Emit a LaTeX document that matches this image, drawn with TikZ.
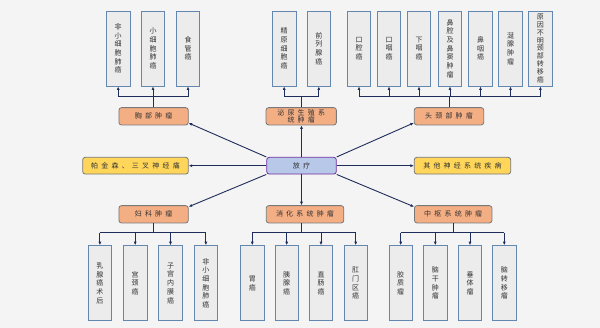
\documentclass[tikz,border=0pt]{standalone}
\usepackage{fontspec}
\setmainfont{Noto Sans CJK SC}
\usetikzlibrary{arrows.meta}
\definecolor{bg}{RGB}{244,244,244}
\definecolor{leaffill}{RGB}{236,236,236}
\definecolor{leafdraw}{RGB}{100,135,175}
\definecolor{orgfill}{RGB}{244,174,132}
\definecolor{boxdraw}{RGB}{120,120,120}
\definecolor{yelfill}{RGB}{255,214,90}
\definecolor{fangfill}{RGB}{184,200,232}
\definecolor{fangdraw}{RGB}{112,48,160}
\definecolor{navy}{RGB}{31,45,90}
\definecolor{txt}{RGB}{50,50,50}
\newcommand\gsp{\hspace{3.2pt}}
\tikzset{
  leaf/.style={draw=leafdraw, fill=leaffill, line width=0.9pt, minimum width=23.5pt,
    minimum height=75pt, inner sep=0pt, align=center,
    font=\fontsize{7}{8.7}\selectfont, text=txt},
  cat/.style={draw=boxdraw, fill=orgfill, rounded corners=2.5pt, line width=0.8pt,
    minimum height=17.3pt, inner sep=0pt, align=center,
    font=\fontsize{7}{7.6}\selectfont, text=txt},
  yel/.style={cat, fill=yelfill, minimum height=16.7pt},
  fangbox/.style={cat, fill=fangfill, draw=fangdraw, minimum height=16.7pt},
  conn/.style={draw=navy, line width=0.9pt},
  arr/.style={conn, -{Latex[length=3.5pt,width=3pt]}}
}
\begin{document}
\begin{tikzpicture}[x=1pt,y=-1pt]
\fill[bg] (0,0) rectangle (600,328);
\useasboundingbox (0,0) rectangle (600,328);
% top leaves
\node[leaf] (t1) at (118.2,48.5) {非\\小\\细\\胞\\肺\\癌};
\node[leaf] (t2) at (153,48.5) {小\\细\\胞\\肺\\癌};
\node[leaf] (t3) at (188,48.5) {食\\管\\癌};
\node[leaf] (t4) at (284.2,48.5) {精\\原\\细\\胞\\癌};
\node[leaf] (t5) at (318.8,48.5) {前\\列\\腺\\癌};
\node[leaf] (t6) at (359,48.5) {口\\腔\\癌};
\node[leaf] (t7) at (389,48.5) {口\\咽\\癌};
\node[leaf] (t8) at (419,48.5) {下\\咽\\癌};
\node[leaf] (t9) at (450,48.5) {鼻\\腔\\及\\鼻\\窦\\肿\\瘤};
\node[leaf] (t10) at (480.5,48.5) {鼻\\咽\\癌};
\node[leaf] (t11) at (510.5,48.5) {涎\\腺\\肿\\瘤};
\node[leaf, font=\fontsize{7}{7.8}\selectfont] (t12) at (540.4,48.5) {原\\因\\不\\明\\颈\\部\\转\\移\\癌};
% bottom leaves
\node[leaf] (b1) at (99.9,283.2) {乳\\腺\\癌\\术\\后};
\node[leaf] (b2) at (135.2,283.2) {宫\\颈\\癌};
\node[leaf] (b3) at (170.5,283.2) {子\\宫\\内\\膜\\癌};
\node[leaf] (b4) at (205.9,283.2) {非\\小\\细\\胞\\肺\\癌};
\node[leaf] (b5) at (252.3,283.2) {胃\\癌};
\node[leaf] (b6) at (286.7,283.2) {胰\\腺\\癌};
\node[leaf] (b7) at (321,283.2) {直\\肠\\癌};
\node[leaf] (b8) at (355.7,283.2) {肛\\门\\区\\癌};
\node[leaf] (b9) at (400.7,283.2) {胶\\质\\瘤};
\node[leaf] (b10) at (435.3,283.2) {脑\\干\\肿\\瘤};
\node[leaf] (b11) at (470,283.2) {垂\\体\\瘤};
\node[leaf] (b12) at (504.3,283.2) {脑\\转\\移\\瘤};
% categories
\node[cat, minimum width=69.3pt] (chest) at (153.6,116.3) {胸\gsp 部\gsp 肿\gsp 瘤};
\node[cat, minimum width=70.3pt] (uro) at (301.2,116.3) {泌\gsp 尿\gsp 生\gsp 殖\gsp 系\\统\gsp 肿\gsp 瘤};
\node[cat, minimum width=69.4pt] (head) at (449,116.3) {头\gsp 颈\gsp 部\gsp 肿\gsp 瘤};
\node[yel, minimum width=105.6pt] (park) at (135.5,165.7) {帕\gsp 金\gsp 森\gsp 、\gsp 三\gsp 叉\gsp 神\gsp 经\gsp 痛};
\node[fangbox, minimum width=69.6pt] (fang) at (301.5,165.7) {放\gsp 疗};
\node[yel, minimum width=96.4pt] (other) at (462.5,165.7) {其\gsp 他\gsp 神\gsp 经\gsp 系\gsp 统\gsp 疾\gsp 病};
\node[cat, minimum width=69.3pt] (gyn) at (153.6,214.3) {妇\gsp 科\gsp 肿\gsp 瘤};
\node[cat, minimum width=77.5pt] (dig) at (305,214.3) {消\gsp 化\gsp 系\gsp 统\gsp 肿\gsp 瘤};
\node[cat, minimum width=77.5pt] (cns) at (453.2,214.3) {中\gsp 枢\gsp 系\gsp 统\gsp 肿\gsp 瘤};
% top brackets
\draw[conn] (chest.north) -- ++(0,-10.4) coordinate (cb);
\draw[conn] (t1.south |- cb) -- (t3.south |- cb);
\foreach \n in {t1,t2,t3} \draw[arr] (\n.south |- cb) -- (\n.south);
\draw[conn] (uro.north) -- ++(0,-10.4) coordinate (ub);
\draw[conn] (t4.south |- ub) -- (t5.south |- ub);
\foreach \n in {t4,t5} \draw[arr] (\n.south |- ub) -- (\n.south);
\draw[conn] (head.north) -- ++(0,-10.4) coordinate (hb);
\draw[conn] (t6.south |- hb) -- (t12.south |- hb);
\foreach \n in {t6,t7,t8,t9,t10,t11,t12} \draw[arr] (\n.south |- hb) -- (\n.south);
% bottom brackets
\draw[conn] (gyn.south) -- ++(0,9.6) coordinate (gb);
\draw[conn] (b1.north |- gb) -- (b4.north |- gb);
\foreach \n in {b1,b2,b3,b4} \draw[arr] (\n.north |- gb) -- (\n.north);
\draw[conn] (dig.south -| fang) -- ++(0,9.6) coordinate (db);
\draw[conn] (b5.north |- db) -- (b8.north |- db);
\foreach \n in {b5,b6,b7,b8} \draw[arr] (\n.north |- db) -- (\n.north);
\draw[conn] (cns.south) -- ++(0,9.6) coordinate (nb);
\draw[conn] (b9.north |- nb) -- (b12.north |- nb);
\foreach \n in {b9,b10,b11,b12} \draw[arr] (\n.north |- nb) -- (\n.north);
% spokes
\draw[arr] (fang.north west) -- ([yshift=2.3pt]chest.south east);
\draw[arr] (fang.north) -- (fang.north |- uro.south);
\draw[arr] (fang.north east) -- ([yshift=2.5pt]head.south west);
\draw[arr] (fang.west) -- (park.east);
\draw[arr] (fang.east) -- (other.west);
\draw[arr] (fang.south west) -- ([yshift=-1.5pt]gyn.north east);
\draw[arr] (fang.south) -- (fang.south |- dig.north);
\draw[arr] (fang.south east) -- ([yshift=-1.5pt]cns.north west);
\end{tikzpicture}
\end{document}
